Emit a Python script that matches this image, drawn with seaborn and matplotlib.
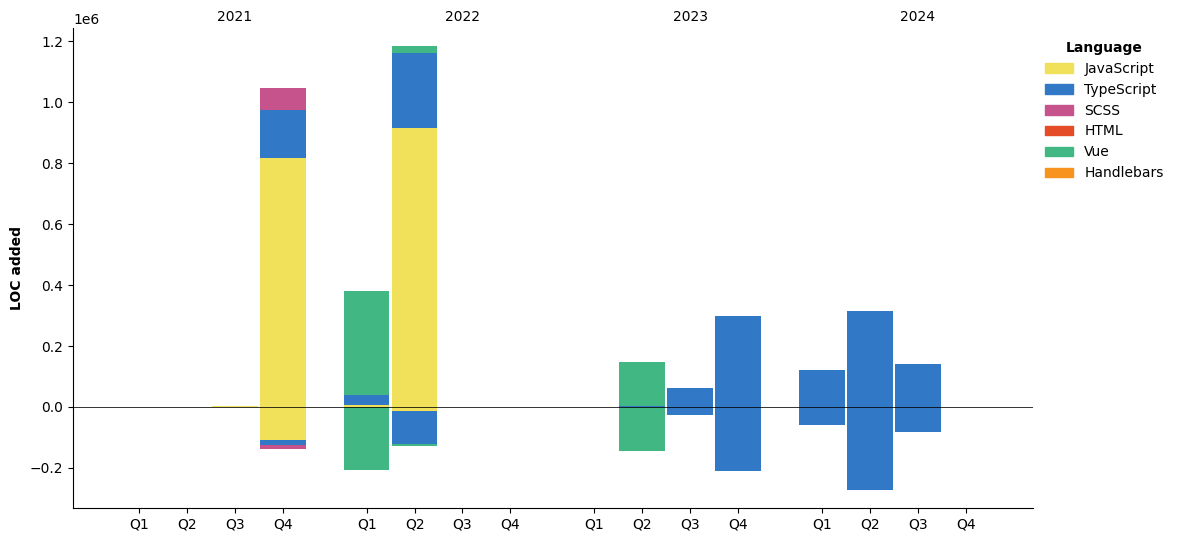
import numpy as np
import matplotlib
matplotlib.use("Agg")
import matplotlib.pyplot as plt
import matplotlib.patches as mpatches
import seaborn as sns

# -- Datos ---------------------------------------------------------------------
years = [2021, 2022, 2023, 2024]
quarters = ["Q1", "Q2", "Q3", "Q4"]
languages = ["JavaScript", "TypeScript", "SCSS", "HTML", "Vue", "Handlebars"]

# LOC por trimestre (16 trimestres, 2021Q1 .. 2024Q4)
js_added = [0, 0, 4000, 816000, 5000, 915000, 0, 0, 0, 0, 0, 0, 0, 0, 0, 0]
js_removed = [0, 0, 0, -108000, 0, -13000, 0, 0, 0, 0, 0, 0, 0, 0, 0, 0]
ts_added = [0, 0, 0, 158000, 34000, 246000, 0, 0, 0, 3000, 62000, 298000, 121000, 315000, 141000, 0]
ts_removed = [0, 0, 0, -17000, 0, -107000, 0, 0, 0, 0, -26000, -210000, -59000, -272000, -82000, 0]
scss_added = [0, 0, 0, 72000, 0, 0, 0, 0, 0, 0, 0, 0, 0, 0, 0, 0]
scss_removed = [0, 0, 0, -13000, 0, 0, 0, 0, 0, 0, 0, 0, 0, 0, 0, 0]
html_added = [0] * 16
html_removed = [0] * 16
vue_added = [0, 0, 0, 0, 341000, 23000, 0, 0, 0, 145000, 0, 0, 0, 0, 0, 0]
vue_removed = [0, 0, 0, 0, -207000, -7000, 0, 0, 0, -144000, 0, 0, 0, 0, 0, 0]
hbs_added = [0] * 16
hbs_removed = [0] * 16

added = [js_added, ts_added, scss_added, html_added, vue_added, hbs_added]
removed = [js_removed, ts_removed, scss_removed, html_removed, vue_removed, hbs_removed]

# Paleta (colores linguist)
COLORES = {"JavaScript": "#f1e05a", "TypeScript": "#3178c6", "SCSS": "#c6538c",
           "HTML": "#e34c26", "Vue": "#41b883", "Handlebars": "#f7931e"}

sns.set_style("ticks")
plt.rcParams.update({"text.color": "black", "axes.labelcolor": "black",
                     "xtick.color": "black", "ytick.color": "black",
                     "axes.edgecolor": "black"})

GAP = 0.75
pos = np.array([y * (4 + GAP) + q for y in range(len(years)) for q in range(4)])

fig, ax = plt.subplots(figsize=(11.79, 5.42), dpi=100)
fig.subplots_adjust(left=0.062, right=0.876, top=0.948, bottom=0.063)

bottom_pos = np.zeros(16)
bottom_neg = np.zeros(16)
for lang, a, r in zip(languages, added, removed):
    a = np.array(a, dtype=float)
    r = np.array(r, dtype=float)
    ax.bar(pos, a, width=0.95, bottom=bottom_pos, color=COLORES[lang], linewidth=0)
    ax.bar(pos, r, width=0.95, bottom=bottom_neg, color=COLORES[lang], linewidth=0)
    bottom_pos += a
    bottom_neg += r

ax.axhline(0, color="black", linewidth=0.7, alpha=0.8)

ax.set_xticks(pos)
ax.set_xticklabels(quarters * len(years))
ax.set_xlim(pos[0] - 1.375, pos[-1] + 1.4)
ax.set_ylim(-331000, 1243000)

# Etiquetas de año encima del eje
for i, y in enumerate(years):
    ax.text(i * (4 + GAP) + 2, 1.023, str(y), transform=ax.get_xaxis_transform(),
            ha="center", va="center", fontsize=10)

ax.set_ylabel("LOC added", fontweight="bold")
sns.despine(ax=ax)

handles = [mpatches.Patch(color=COLORES[l], label=l) for l in languages]
leg = ax.legend(handles=handles, title="Language", loc="upper left",
                bbox_to_anchor=(1.0, 1.0), frameon=False)
leg.get_title().set_fontweight("bold")

plt.savefig("out.png", dpi=100)
plt.close()
